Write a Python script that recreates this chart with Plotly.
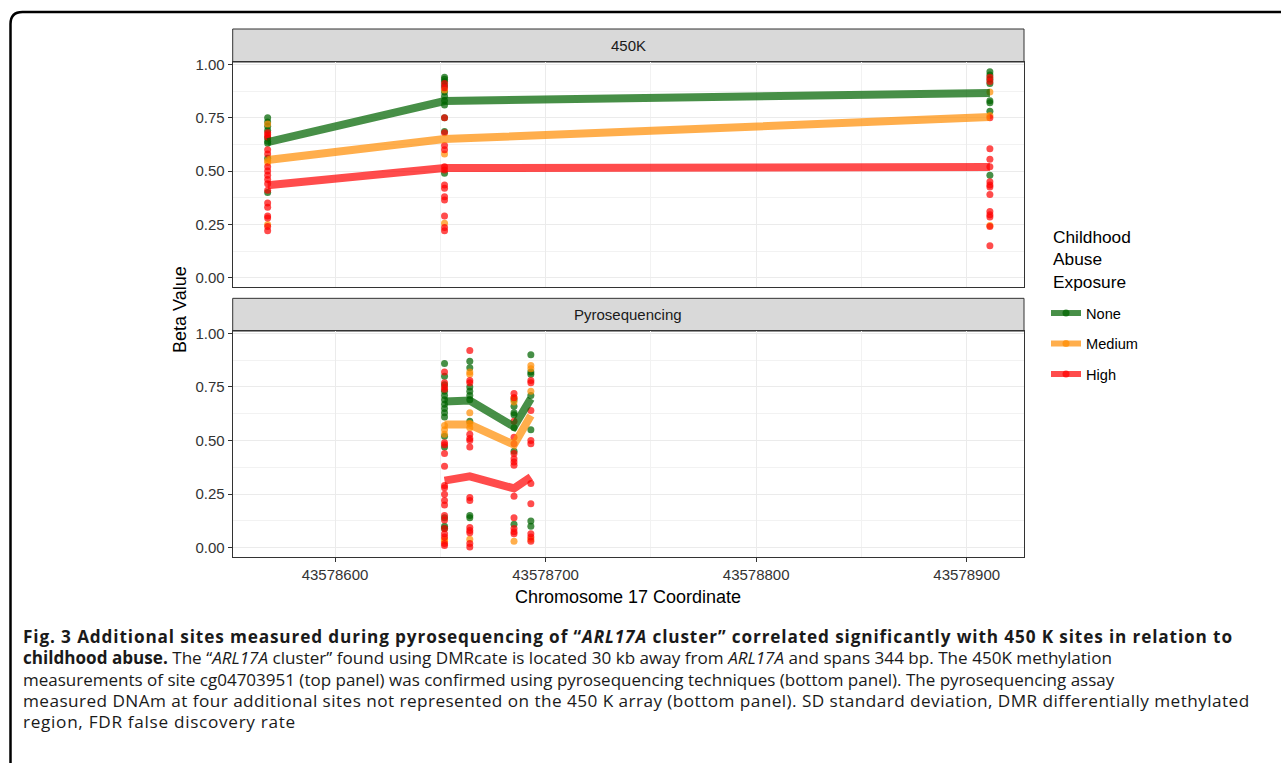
import plotly.graph_objects as go

W, H = 1281, 763

# ---------------- data ----------------
groups = ["None", "Medium", "High"]
colors = {"None": "rgba(0,100,0,0.72)", "Medium": "rgba(255,140,0,0.70)", "High": "rgba(255,0,0,0.70)"}

sites_450k = [43578568, 43578652, 43578911]
mean_450k_none = [0.636, 0.828, 0.866]
mean_450k_medium = [0.552, 0.650, 0.753]
mean_450k_high = [0.434, 0.514, 0.519]

pts_450k_none = [
    [0.75, 0.73, 0.71, 0.69, 0.655, 0.64, 0.63, 0.56, 0.40],
    [0.94, 0.93, 0.92, 0.90, 0.87, 0.85, 0.83, 0.81, 0.75, 0.685, 0.49],
    [0.965, 0.95, 0.93, 0.91, 0.83, 0.82, 0.78, 0.48],
]
pts_450k_medium = [
    [0.72, 0.55, 0.54, 0.25],
    [0.88, 0.58, 0.255],
    [0.87, 0.76, 0.245],
]
pts_450k_high = [
    [0.68, 0.67, 0.66, 0.60, 0.58, 0.52, 0.50, 0.48, 0.46, 0.44, 0.41, 0.35, 0.33, 0.29, 0.28, 0.24, 0.22],
    [0.91, 0.89, 0.75, 0.68, 0.62, 0.60, 0.52, 0.505, 0.435, 0.42, 0.38, 0.365, 0.29, 0.235, 0.22],
    [0.94, 0.92, 0.75, 0.605, 0.555, 0.52, 0.45, 0.435, 0.425, 0.39, 0.31, 0.295, 0.285, 0.24, 0.15],
]

sites_pyro = [43578652, 43578664, 43578685, 43578693]
mean_pyro_none = [0.682, 0.687, 0.565, 0.696]
mean_pyro_medium = [0.575, 0.575, 0.481, 0.617]
mean_pyro_high = [0.313, 0.333, 0.277, 0.330]

pts_pyro_none = [
    [0.86, 0.80, 0.76, 0.73, 0.71, 0.69, 0.67, 0.65, 0.63, 0.61, 0.52, 0.47, 0.14, 0.10, 0.09],
    [0.87, 0.84, 0.75, 0.73, 0.71, 0.69, 0.59, 0.15, 0.14],
    [0.69, 0.66, 0.63, 0.62, 0.56, 0.45, 0.11],
    [0.90, 0.82, 0.81, 0.71, 0.55, 0.125, 0.10],
]
pts_pyro_medium = [
    [0.57, 0.55, 0.53, 0.04, 0.03],
    [0.82, 0.81, 0.63, 0.58, 0.56, 0.04],
    [0.70, 0.68, 0.03],
    [0.85, 0.835, 0.73, 0.04],
]
pts_pyro_high = [
    [0.82, 0.77, 0.75, 0.74, 0.49, 0.48, 0.44, 0.38, 0.29, 0.28, 0.25, 0.22, 0.20, 0.15, 0.13, 0.09, 0.065, 0.05, 0.02, 0.01],
    [0.92, 0.78, 0.77, 0.53, 0.51, 0.50, 0.47, 0.235, 0.22, 0.095, 0.08, 0.07, 0.02, 0.003],
    [0.72, 0.70, 0.59, 0.515, 0.485, 0.44, 0.415, 0.40, 0.385, 0.24, 0.14, 0.09, 0.075, 0.065],
    [0.78, 0.77, 0.64, 0.50, 0.485, 0.30, 0.205, 0.065, 0.05, 0.03],
]

x_ticks = [43578600, 43578700, 43578800, 43578900]
y_ticks = [0.0, 0.25, 0.50, 0.75, 1.00]
y_ticklabels = ["0.00", "0.25", "0.50", "0.75", "1.00"]

caption_lines = [
    "<b>Fig. 3 Additional sites measured during pyrosequencing of “<i>ARL17A</i> cluster” correlated significantly with 450 K sites in relation to</b>",
    "<b>childhood abuse.</b> The “<i>ARL17A</i> cluster” found using DMRcate is located 30 kb away from <i>ARL17A</i> and spans 344 bp. The 450K methylation",
    "measurements of site cg04703951 (top panel) was confirmed using pyrosequencing techniques (bottom panel). The pyrosequencing assay",
    "measured DNAm at four additional sites not represented on the 450 K array (bottom panel). SD standard deviation, DMR differentially methylated",
    "region, FDR false discovery rate",
]
caption_sizes = [17.2, 17.1, 17.0, 17.2, 17.2]
caption_spacing = [0.87, 0.0, 0.0, 0.44, 0.69]


def py(r):
    """reference pixel row -> paper y"""
    return 1 - ((r - 6) / 0.992) / H


# ---------------- figure ----------------
fig = go.Figure()

panels = [
    ("x", "y", sites_450k,
     {"None": pts_450k_none, "Medium": pts_450k_medium, "High": pts_450k_high},
     {"None": mean_450k_none, "Medium": mean_450k_medium, "High": mean_450k_high}),
    ("x2", "y2", sites_pyro,
     {"None": pts_pyro_none, "Medium": pts_pyro_medium, "High": pts_pyro_high},
     {"None": mean_pyro_none, "Medium": mean_pyro_medium, "High": mean_pyro_high}),
]

for xa, ya, sites, pts, means in panels:
    for g in groups:
        xs, ys = [], []
        for s, vals in zip(sites, pts[g]):
            xs += [s] * len(vals)
            ys += vals
        fig.add_trace(go.Scatter(x=xs, y=ys, mode="markers", xaxis=xa, yaxis=ya,
                                 marker=dict(size=7, color=colors[g], line=dict(width=0)),
                                 showlegend=False, hoverinfo="skip"))
    for g in groups:
        fig.add_trace(go.Scatter(x=sites, y=means[g], mode="lines", xaxis=xa, yaxis=ya,
                                 line=dict(color=colors[g], width=8),
                                 showlegend=False, hoverinfo="skip"))

# legend entries
for g in groups:
    fig.add_trace(go.Scatter(x=[None], y=[None], mode="lines+markers", name=g, legendgroup=g,
                             line=dict(color=colors[g], width=6),
                             marker=dict(size=7, color=colors[g])))

xr = [43578551.4, 43578927.2]
yr = [-0.042, 1.011]
xd = [232.7 / W, 1024 / W]

axis_common = dict(showline=True, mirror=True, linecolor="#333333", linewidth=1,
                   gridcolor="#ebebeb", gridwidth=1.1, zeroline=False,
                   tickfont=dict(family="Liberation Sans, Arial", size=15, color="#333333"),
                   tickcolor="#333333", ticklen=4, tickwidth=1)

fig.update_layout(
    width=W, height=H,
    margin=dict(l=0, r=0, t=0, b=0),
    paper_bgcolor="white", plot_bgcolor="white",
    xaxis=dict(domain=xd, range=xr, anchor="y", tickvals=x_ticks, showticklabels=False, ticks="",
               minor=dict(dtick=50, tick0=43578550, showgrid=True, gridcolor="#f2f2f2", gridwidth=0.6),
               **{k: v for k, v in axis_common.items() if k not in ("ticklen",)}),
    yaxis=dict(domain=[py(286.7), py(62)], range=yr, anchor="x", tickvals=y_ticks,
               ticktext=y_ticklabels, ticks="outside",
               minor=dict(dtick=0.125, tick0=0.125, showgrid=True, gridcolor="#f2f2f2", gridwidth=0.6),
               **axis_common),
    xaxis2=dict(domain=xd, range=xr, anchor="y2", tickvals=x_ticks, ticks="outside",
                tickformat="d",
                minor=dict(dtick=50, tick0=43578550, showgrid=True, gridcolor="#f2f2f2", gridwidth=0.6),
                **axis_common),
    yaxis2=dict(domain=[py(556.7), py(331)], range=yr, anchor="x2", tickvals=y_ticks,
                ticktext=y_ticklabels, ticks="outside",
                minor=dict(dtick=0.125, tick0=0.125, showgrid=True, gridcolor="#f2f2f2", gridwidth=0.6),
                **axis_common),
    legend=dict(x=1046 / W, y=py(297), xanchor="left", yanchor="top",
                font=dict(family="Liberation Sans, Arial", size=14.6, color="black"),
                tracegroupgap=8.5, itemwidth=30, bgcolor="rgba(0,0,0,0)"),
    font=dict(family="Liberation Sans, Arial"),
)

# legend title
fig.add_annotation(xref="paper", yref="paper", x=1051 / W, y=py(259.5),
                   text="Childhood<br>Abuse<br>Exposure", showarrow=False, xanchor="left",
                   yanchor="middle", align="left",
                   font=dict(family="Liberation Sans, Arial", size=17.3, color="black"))

# strips
for r0, r1, label in [(62, 29, "450K"), (331, 298.3, "Pyrosequencing")]:
    y0, y1 = py(r0), py(r1)
    fig.add_shape(type="rect", xref="paper", yref="paper", x0=xd[0], x1=xd[1], y0=y0, y1=y1,
                  fillcolor="#d9d9d9", line=dict(color="#333333", width=1), layer="below")
    fig.add_annotation(xref="paper", yref="paper", x=(xd[0] + xd[1]) / 2, y=(y0 + y1) / 2,
                       text=label, showarrow=False, xanchor="center", yanchor="middle",
                       font=dict(family="Liberation Sans, Arial", size=15, color="#1a1a1a"))

# axis titles
fig.add_annotation(xref="paper", yref="paper", x=(xd[0] + xd[1]) / 2, y=py(597),
                   text="Chromosome 17 Coordinate", showarrow=False, xanchor="center", yanchor="middle",
                   font=dict(family="Liberation Sans, Arial", size=18, color="black"))
fig.add_annotation(xref="paper", yref="paper", x=180 / W, y=py(310), textangle=-90,
                   text="Beta Value", showarrow=False, xanchor="center", yanchor="middle",
                   font=dict(family="Liberation Sans, Arial", size=18, color="black"))

# frame
fl, rr = 10.5 / W, 12
ft = py(12)
fig.add_shape(type="path", xref="paper", yref="paper",
              path=f"M 1.01,{ft} L {(10.5 + rr) / W},{ft} Q {fl},{ft} {fl},{py(12 + rr)} L {fl},-0.01",
              line=dict(color="black", width=2.5))

# caption: one text block, line spacing 1.3 * base size = 21.3 px
caption_text = "<br>".join(
    f"<span style='font-size:{sz}px;letter-spacing:{ls}px'>{line}</span>"
    for line, sz, ls in zip(caption_lines, caption_sizes, caption_spacing)
)
fig.add_annotation(xref="paper", yref="paper", x=21 / W, y=py(678.6),
                   text=caption_text, showarrow=False, xanchor="left", yanchor="middle", align="left",
                   font=dict(family="Open Sans", size=16.4, color="#1a1a1a"))

fig.write_html("out.html", post_script="document.body.style.margin='0px';",
               config={"displayModeBar": False})
